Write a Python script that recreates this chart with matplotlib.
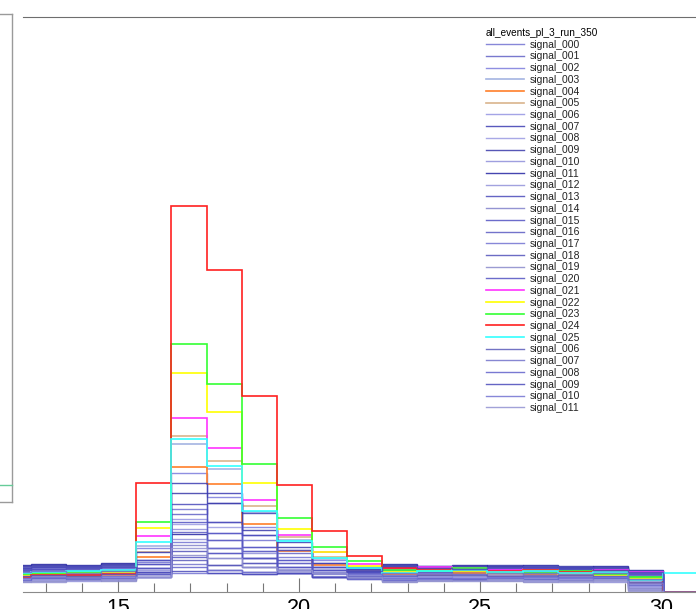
import numpy as np
import matplotlib
matplotlib.use("Agg")
import matplotlib.pyplot as plt
from matplotlib.lines import Line2D
from matplotlib.ticker import MultipleLocator

plt.rcParams["font.family"] = ["Liberation Sans", "DejaVu Sans"]

# bin edges (bin width ~0.97), first bin starts left of the visible range
bin_width = 0.97
first_edge = 11.627
n_bins = 21
edges = first_edge + bin_width * np.arange(n_bins + 1)

legend_title = "all_events_pl_3_run_350"

names = ["signal_%03d" % i for i in range(26)] + ["signal_%03d" % i for i in range(6, 12)]

colors = [
    "#7272d2", "#6262c6", "#7c7cdc", "#a4b4e2", "#ff7f2a", "#d9b48c",
    "#9494e2", "#3c3cb2", "#9a9ae2", "#3a3aaa", "#8e8eda", "#2424a2",
    "#9292da", "#4a4aba", "#8282ca", "#5252c2", "#5a5ac2", "#7272d2",
    "#5252ba", "#8a8aca", "#5252c2", "#ff33ff", "#ffff00", "#33ff33",
    "#ff2020", "#33ffff", "#5a5aba", "#7272ca", "#6262ca", "#4a4aba",
    "#7272d2", "#9292d2",
]

# bin contents, one list per signal (legend order)
s000 = [20, 22, 21, 24, 30, 83, 70, 52, 35, 25, 20, 18, 17, 22, 20, 18, 21, 19, 14, 0, 0]
s001 = [18, 21, 23, 22, 28, 78, 89, 57, 39, 29, 22, 24, 21, 19, 23, 20, 18, 22, 17, 0, 0]
s002 = [22, 24, 20, 25, 44, 119, 95, 65, 42, 32, 25, 21, 23, 20, 18, 24, 22, 20, 18, 0, 0]
s003 = [16, 18, 17, 19, 46, 148, 123, 80, 52, 33, 23, 20, 19, 20, 18, 19, 17, 19, 11, 0, 0]
s004 = [14, 16, 15, 17, 35, 125, 108, 68, 41, 27, 21, 18, 17, 19, 16, 17, 16, 18, 9, 0, 0]
s005 = [15, 17, 16, 18, 40, 156, 131, 86, 55, 35, 24, 19, 20, 21, 18, 20, 19, 17, 13, 0, 0]
s006 = [13, 15, 14, 16, 24, 73, 59, 45, 32, 22, 18, 15, 16, 14, 17, 15, 13, 16, 6, 0, 0]
s007 = [24, 26, 25, 27, 40, 109, 99, 79, 50, 29, 24, 26, 24, 25, 23, 26, 24, 25, 20, 0, 0]
s008 = [12, 13, 11, 14, 20, 68, 65, 41, 29, 19, 16, 12, 13, 15, 14, 12, 14, 13, 5, 0, 0]
s009 = [26, 27, 26, 28, 32, 99, 89, 62, 45, 25, 23, 27, 25, 26, 27, 25, 26, 24, 21, 0, 0]
s010 = [15, 16, 17, 15, 22, 63, 52, 39, 25, 19, 17, 14, 15, 16, 15, 14, 16, 15, 8, 0, 0]
s011 = [27, 28, 27, 29, 18, 58, 44, 34, 22, 19, 25, 28, 26, 27, 26, 27, 25, 26, 22, 0, 0]
s012 = [11, 12, 13, 12, 20, 53, 39, 29, 19, 16, 14, 11, 12, 13, 12, 11, 12, 10, 3, 0, 0]
s013 = [23, 25, 24, 26, 24, 88, 70, 57, 42, 22, 21, 25, 23, 22, 24, 23, 25, 23, 19, 0, 0]
s014 = [14, 14, 15, 13, 18, 47, 34, 25, 19, 15, 14, 13, 14, 12, 13, 13, 12, 14, 4, 0, 0]
s015 = [21, 23, 22, 23, 28, 70, 59, 45, 32, 25, 20, 22, 20, 23, 21, 22, 23, 21, 16, 0, 0]
s016 = [19, 20, 22, 21, 24, 60, 52, 41, 29, 22, 19, 20, 22, 21, 22, 21, 20, 23, 15, 0, 0]
s017 = [17, 19, 18, 20, 20, 50, 44, 34, 25, 19, 18, 17, 19, 18, 19, 17, 19, 18, 12, 0, 0]
s018 = [25, 26, 24, 27, 15, 41, 27, 29, 22, 19, 22, 25, 26, 24, 25, 26, 23, 24, 21, 0, 0]
s019 = [10, 11, 12, 11, 15, 37, 22, 20, 19, 15, 13, 10, 11, 12, 11, 10, 11, 12, 2, 0, 0]
s020 = [22, 23, 24, 22, 32, 35, 39, 34, 25, 22, 20, 23, 22, 24, 22, 24, 22, 21, 18, 0, 0]
s021 = [16, 20, 19, 22, 56, 174, 144, 92, 57, 40, 28, 23, 25, 24, 22, 23, 20, 22, 20, 0, 0]
s022 = [17, 18, 19, 20, 64, 219, 180, 109, 63, 40, 26, 20, 22, 21, 19, 22, 18, 17, 14, 0, 0]
s023 = [18, 19, 20, 21, 70, 248, 208, 128, 74, 45, 31, 22, 21, 24, 20, 19, 21, 18, 15, 0, 0]
s024 = [15, 17, 17, 18, 109, 386, 322, 196, 107, 61, 36, 24, 23, 22, 21, 22, 20, 21, 12, 0, 0]
s025 = [19, 20, 21, 22, 50, 153, 126, 81, 51, 34, 24, 19, 21, 22, 20, 21, 19, 20, 12, 19, 19]
s006b = [16, 17, 16, 18, 18, 32, 27, 25, 22, 19, 16, 16, 17, 17, 16, 16, 17, 16, 10, 0, 0]
s007b = [20, 21, 19, 21, 15, 28, 22, 20, 19, 15, 15, 19, 18, 18, 19, 19, 18, 19, 13, 0, 0]
s008b = [12, 14, 13, 14, 18, 25, 19, 18, 19, 15, 13, 12, 14, 13, 14, 13, 15, 14, 7, 0, 0]
s009b = [24, 25, 26, 25, 20, 21, 19, 18, 19, 15, 21, 26, 24, 23, 25, 24, 24, 22, 20, 0, 0]
s010b = [14, 15, 14, 16, 15, 19, 22, 20, 22, 19, 15, 14, 13, 14, 15, 15, 14, 15, 9, 0, 0]
s011b = [11, 10, 12, 13, 15, 44, 34, 25, 22, 19, 15, 11, 12, 11, 13, 12, 10, 11, 1, 0, 0]

series = [
    s000, s001, s002, s003, s004, s005, s006, s007, s008, s009, s010, s011,
    s012, s013, s014, s015, s016, s017, s018, s019, s020, s021, s022, s023,
    s024, s025, s006b, s007b, s008b, s009b, s010b, s011b,
]
special = {3, 4, 5, 21, 22, 23, 24, 25}

W, H = 696, 609
fig = plt.figure(figsize=(W / 100, H / 100), dpi=100)

# main pad (cropped on the left and right)
ax = fig.add_axes([23 / W, (H - 592) / H, (W - 23) / W, 575 / H])
ax.set_xlim(12.376, 30.967)
ax.set_ylim(0, 575)

handles = []
for i, vals in enumerate(series):
    if i in special:
        a, lw = 1.0, 1.2
    else:
        a, lw = 0.85, 1.0
    ax.stairs(vals, edges, color=colors[i], linewidth=lw, alpha=a, zorder=2 + i * 0.01)
    handles.append(Line2D([], [], color=colors[i], linewidth=lw, alpha=a))

for side in ["left", "right"]:
    ax.spines[side].set_visible(False)
ax.spines["top"].set_color("#6e6e6e")
ax.spines["bottom"].set_color("#8a8a8a")
ax.spines["top"].set_linewidth(0.8)
ax.spines["bottom"].set_linewidth(0.8)

ax.xaxis.set_major_locator(MultipleLocator(5))
ax.xaxis.set_minor_locator(MultipleLocator(1))
ax.tick_params(axis="x", which="major", direction="in", length=10, width=0.8,
               color="#777777", labelsize=15.5, pad=4)
ax.tick_params(axis="x", which="minor", direction="in", length=6.5, width=0.8,
               color="#777777")
ax.tick_params(axis="y", left=False, labelleft=False)
ax.set_yticks([])

leg = ax.legend(handles, names, title=legend_title, loc="upper left",
                bbox_to_anchor=(486 / W, 1 - 28 / H), bbox_transform=fig.transFigure,
                frameon=False, fontsize=7.5, title_fontsize=7.2, handlelength=3.65,
                handletextpad=0.58, labelspacing=0.165, borderpad=0, borderaxespad=0)
leg._legend_box.align = "left"
for t in leg.get_texts():
    t.set_color("#222222")

# left neighbouring pad, only its edge is visible
fig.add_artist(Line2D([12 / W, 12 / W], [1 - 14 / H, 1 - 502 / H], color="#9a9a9a", linewidth=1.0))
fig.add_artist(Line2D([0, 12 / W], [1 - 502 / H, 1 - 502 / H], color="#9a9a9a", linewidth=1.0))
fig.add_artist(Line2D([0, 12 / W], [1 - 14 / H, 1 - 14 / H], color="#9a9a9a", linewidth=1.0))
fig.add_artist(Line2D([0, 12 / W], [1 - 485 / H, 1 - 485 / H], color="#66cc99", linewidth=1.0))

fig.savefig("out.png", dpi=100)
